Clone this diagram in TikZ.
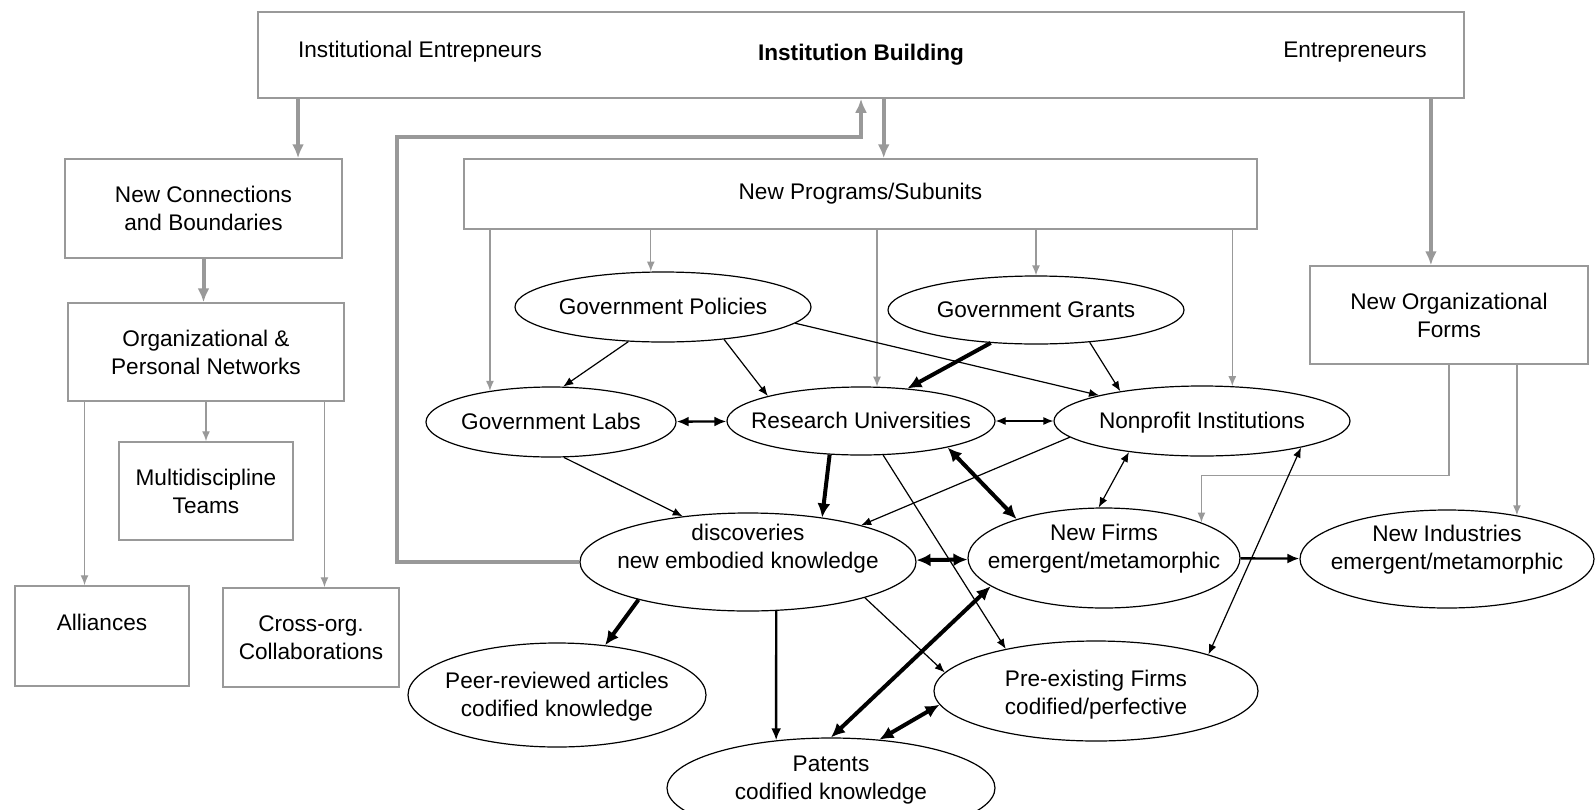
\documentclass[tikz,border=0pt]{standalone}
\usepackage{fontspec}
\setmainfont{Liberation Sans}
\usetikzlibrary{shapes.geometric,arrows.meta}
\definecolor{linegray}{gray}{0.6}
\newcommand{\ovtext}[2][-3.8pt]{\raisebox{#1}[0pt][0pt]{\makebox[0pt]{\begin{tabular}{@{}c@{}}#2\end{tabular}}}}
\tikzset{
  box/.style={draw=linegray, line width=0.75pt, align=center, inner sep=0pt},
  oval/.style={draw, ellipse, line width=0.6pt, inner sep=0pt},
  gthin/.style={draw=linegray, line width=0.7pt, >={Latex[length=5pt,width=4pt]}},
  gthick/.style={draw=linegray, line width=2pt, >={Latex[length=7pt,width=6pt]}},
  bthin/.style={line width=0.6pt, >={Latex[length=5pt,width=4pt]}},
  bmid/.style={line width=1.2pt, >={Latex[length=6pt,width=5pt]}},
  bthick/.style={line width=2pt, >={Latex[length=7pt,width=6.5pt]}}
}
\begin{document}
\begin{tikzpicture}[x=0.5pt,y=-0.5pt,font=\fontsize{11.3}{14}\selectfont]
    \useasboundingbox (0,0) rectangle (1595,809);
    \clip (0,0) rectangle (1595,809);

    \node[box,minimum width=603pt,minimum height=43pt] (ib) at (861,55) {\textbf{Institution Building}};
    \node (ie) at (420,52) {Institutional Entrepneurs};
    \node (ent) at (1355,52) {Entrepreneurs};

    \node[box,minimum width=138.5pt,minimum height=49.5pt] (nc) at (203.5,208.5) {New Connections\\and Boundaries};
    \node[box,minimum width=138pt,minimum height=49pt] (opn) at (206,352) {Organizational \&\\Personal Networks};
    \node[box,minimum width=87pt,minimum height=49pt] (mt) at (206,491) {Multidiscipline\\Teams};
    \node[box,minimum width=87pt,minimum height=50pt] (al) at (102,636) {Alliances\\~};
    \node[box,minimum width=88pt,minimum height=49.5pt] (co) at (311,637.5) {Cross-org.\\Collaborations};

    \node[box,minimum width=396.5pt,minimum height=35pt] (np) at (860.5,194) {New Programs/Subunits};
    \node[box,minimum width=139pt,minimum height=49pt] (nof) at (1449,315) {New Organizational\\Forms};

    \node[oval,minimum width=148pt,minimum height=35pt] (gp) at (663,307) {\ovtext{Government Policies}};
    \node[oval,minimum width=148pt,minimum height=34pt] (gg) at (1036,310) {\ovtext{Government Grants}};
    \node[oval,minimum width=125pt,minimum height=35pt] (gl) at (551,422) {\ovtext{Government Labs}};
    \node[oval,minimum width=134pt,minimum height=34pt] (ru) at (861,421) {\ovtext{Research Universities}};
    \node[oval,minimum width=148pt,minimum height=35pt] (npi) at (1202,421) {\ovtext{Nonprofit Institutions}};
    \node[oval,minimum width=168pt,minimum height=49pt] (dis) at (748,562) {\ovtext[3.8pt]{discoveries\\new embodied knowledge}};
    \node[oval,minimum width=136pt,minimum height=50pt] (nf) at (1104,558) {\ovtext[2pt]{New Firms\\emergent/metamorphic}};
    \node[oval,minimum width=147pt,minimum height=49pt] (ni) at (1447,559) {\ovtext[2pt]{New Industries\\emergent/metamorphic}};
    \node[oval,minimum width=149pt,minimum height=52pt] (pra) at (557,695) {\ovtext{Peer-reviewed articles\\codified knowledge}};
    \node[oval,minimum width=162pt,minimum height=50pt] (pef) at (1096,691) {\ovtext[-4.5pt]{Pre-existing Firms\\codified/perfective}};
    \node[oval,minimum width=164pt,minimum height=50pt] (pat) at (831,788) {\ovtext[1.5pt]{Patents\\codified knowledge}};

    % gray links
    \draw[gthick,->] (ib.south -| nc.28) -- (nc.28);
    \draw[gthick,->] (nc.south) -- (nc.south |- opn.north);
    \draw[gthick,->] (ib.south -| np.57) -- (np.57);
    \draw[gthick,->] (ib.south -| nof.110) -- (nof.110);
    \coordinate (fb) at (397,137);
    \draw[gthick,->] (dis.west) -| (fb) -| (ib.south);

    \draw[gthin,->] (opn.south -| al.109) -- (al.109);
    \draw[gthin,->] (opn.south) -- (mt.north);
    \draw[gthin,->] (opn.south -| co.75) -- (co.75);

    \draw[gthin,->] (np.south -| gl.153) -- (gl.153);
    \draw[gthin,->] (np.south -| gp.109) -- (gp.109);
    \draw[gthin,->] (np.south -| ru.65) -- (ru.65);
    \draw[gthin,->] (np.south -| gg.north) -- (gg.north);
    \draw[gthin,->] (np.south -| npi.49) -- (npi.49);

    \draw[gthin,->] (nof.south) -- ++(0,111) -| (nf.20);
    \draw[gthin,->] (nof.south -| ni.32) -- (ni.32);

    % black links
    \draw[bthin,->] (gp.225) -- (gl.71);
    \draw[bthin,->] (gp.-28) -- (ru.165);
    \draw[bthin,->] (gp.-7) -- (npi.166);
    \draw[bthick,->] (gg.216) -- (ru.35);
    \draw[bthin,->] (gg.-31) -- (npi.160);
    \draw[bmid,<->] (gl) -- (ru);
    \draw[bthin,<->] (ru) -- (npi);
    \draw[bthin,->] (gl.-70) -- (dis.145);
    \draw[bthick,->] (ru.227) -- (dis.31);
    \draw[bthin,->] (npi.187) -- (dis.18);
    \draw[bthick,<->] (ru.-17) -- (nf.156);
    \draw[bthin,->] (ru.-57) -- (pef.155);
    \draw[bthin,<->] (npi.203) -- (nf.96);
    \draw[bthin,<->] (npi.-15) -- (pef.18);
    \draw[bthick,<->] (dis) -- (nf);
    \draw[bmid,->] (nf) -- (ni);
    \draw[bthick,->] (dis.199) -- (pra.46);
    \draw[bmid,->] (dis.-60) -- (pat.139);
    \draw[bthin,->] (dis.-17) -- (pef.173);
    \draw[bthick,<->] (pat.north) -- (nf.194);
    \draw[bthick,<->] (pat.45) -- (pef.185);
\end{tikzpicture}
\end{document}
